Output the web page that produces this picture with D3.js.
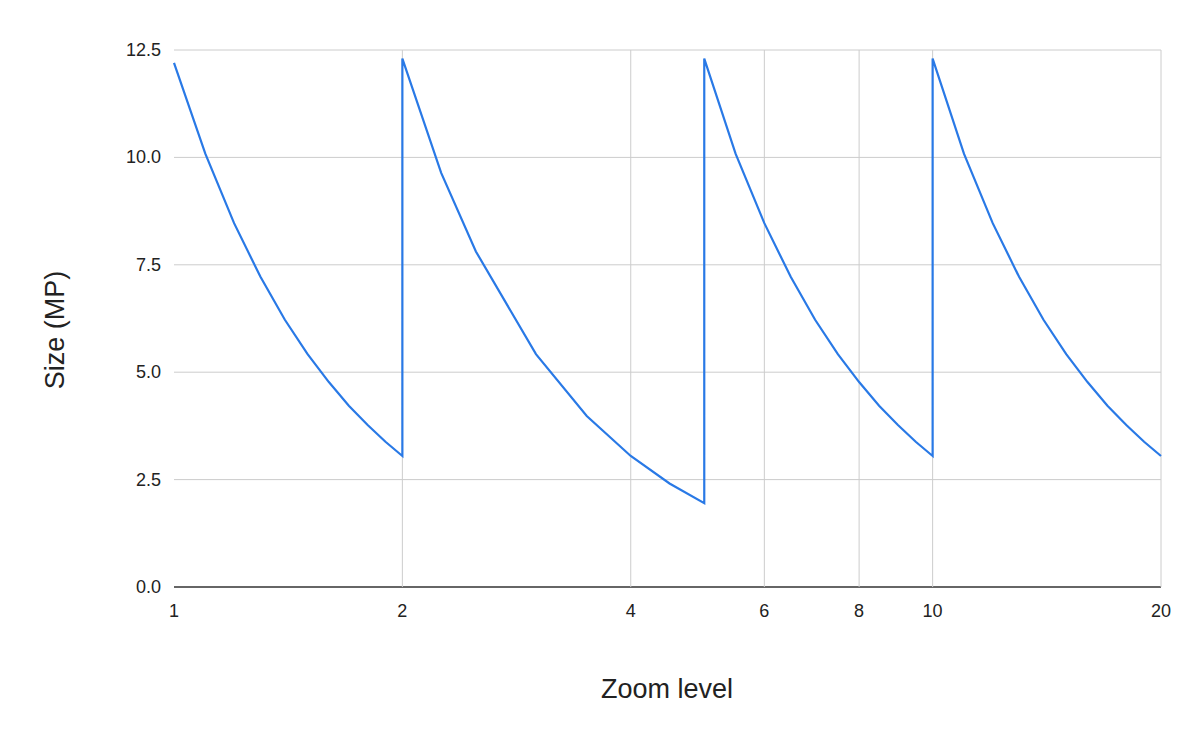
<!DOCTYPE html>
<html>
<head>
<meta charset="utf-8">
<script src="https://cdn.jsdelivr.net/npm/d3@7"></script>
<style>body{margin:0;background:#fff;font-family:"Liberation Sans",Arial,sans-serif}</style>
</head>
<body>
<script>
// zoom level / size (MP) pairs
var zoom = [1,1.1,1.2,1.3,1.4,1.5,1.6,1.7,1.8,1.9,2,
	2,2.25,2.5,3,3.5,4,4.5,5,
	5,5.5,6,6.5,7,7.5,8,8.5,9,9.5,10,
	10,11,12,13,14,15,16,17,18,19,20];
var size = [12.2,10.08,8.47,7.22,6.22,5.42,4.77,4.22,3.77,3.38,3.05,
	12.3,9.64,7.81,5.42,3.98,3.05,2.41,1.95,
	12.3,10.08,8.47,7.22,6.22,5.42,4.77,4.22,3.77,3.38,3.05,
	12.3,10.08,8.47,7.22,6.22,5.42,4.77,4.22,3.77,3.38,3.05];
var xTicks = [1,2,4,6,8,10,20];
var yTicks = [0,2.5,5,7.5,10,12.5];

var w = 1200, h = 744;
var svg = d3.select("body").append("svg").attr("width", w).attr("height", h);

var x = d3.scaleLog().base(2).domain([1, 20]).range([174, 1161]);
var y = d3.scaleLinear().domain([0, 12.5]).range([587, 50]);

// gridlines
svg.selectAll(".hg").data(yTicks).enter().append("line")
	.attr("x1", 174).attr("x2", 1161)
	.attr("y1", d => y(d)).attr("y2", d => y(d))
	.attr("stroke", d => d == 0 ? "#333" : "#ccc").attr("stroke-width", d => d == 0 ? 1.5 : 1);
svg.selectAll(".vg").data(xTicks.slice(1)).enter().append("line")
	.attr("x1", d => x(d)).attr("x2", d => x(d))
	.attr("y1", 50).attr("y2", 587)
	.attr("stroke", "#ccc");

// tick labels
svg.selectAll(".yl").data(yTicks).enter().append("text")
	.attr("x", 161).attr("y", d => y(d) + 6)
	.attr("text-anchor", "end").attr("font-size", 18).attr("fill", "#222")
	.text(d => d.toFixed(1));
svg.selectAll(".xl").data(xTicks).enter().append("text")
	.attr("x", d => x(d)).attr("y", 617)
	.attr("text-anchor", "middle").attr("font-size", 18).attr("fill", "#222")
	.text(d => d);

// axis titles
svg.append("text").attr("x", 667).attr("y", 698).attr("text-anchor", "middle")
	.attr("font-size", 27).attr("fill", "#222").text("Zoom level");
svg.append("text").attr("transform", "translate(64,330) rotate(-90)").attr("text-anchor", "middle")
	.attr("font-size", 27).attr("fill", "#222").text("Size (MP)");

// series line
var pts = zoom.map((z, i) => [z, size[i]]);
svg.append("path").datum(pts)
	.attr("fill", "none").attr("stroke", "#2979e6").attr("stroke-width", 2.2)
	.attr("d", d3.line().x(d => x(d[0])).y(d => y(d[1])));
</script>
</body>
</html>
